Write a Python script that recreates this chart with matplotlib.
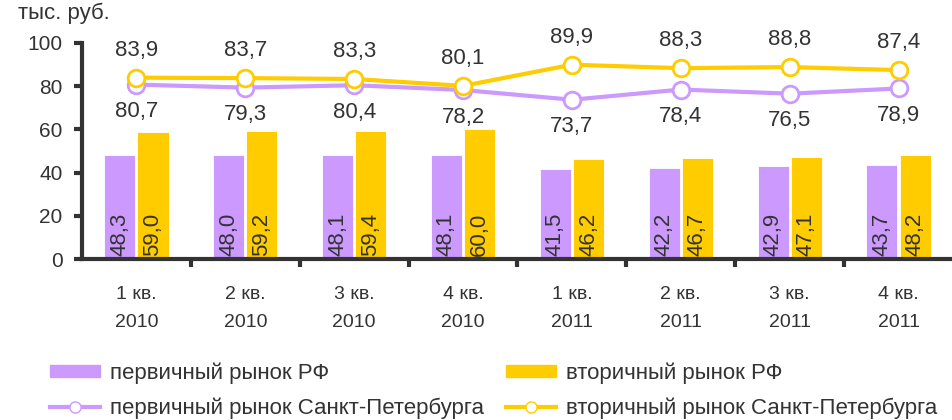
import numpy as np
import matplotlib.pyplot as plt
from matplotlib.lines import Line2D
from matplotlib.patches import Patch

plt.rcParams['font.family'] = ['Liberation Sans', 'DejaVu Sans']

quarters = ['1 кв.\n2010', '2 кв.\n2010', '3 кв.\n2010', '4 кв.\n2010',
            '1 кв.\n2011', '2 кв.\n2011', '3 кв.\n2011', '4 кв.\n2011']
primary_rf = [48.3, 48.0, 48.1, 48.1, 41.5, 42.2, 42.9, 43.7]
secondary_rf = [59.0, 59.2, 59.4, 60.0, 46.2, 46.7, 47.1, 48.2]
primary_spb = [80.7, 79.3, 80.4, 78.2, 73.7, 78.4, 76.5, 78.9]
secondary_spb = [83.9, 83.7, 83.3, 80.1, 89.9, 88.3, 88.8, 87.4]

purple = '#CC99FF'
yellow = '#FFCC00'
dark = '#333333'


def fmt(v):
  return f'{v:.1f}'.replace('.', ',')


fig = plt.figure(figsize=(9.53, 4.2), dpi=100)
ax = fig.add_axes([0.086, 0.383, 0.914, 0.515])

x = np.arange(len(quarters))
w = 0.285
b1 = ax.bar(x - w / 2 - 0.01, primary_rf, w, color=purple, edgecolor='white', linewidth=0.6)
b2 = ax.bar(x + w / 2 + 0.01, secondary_rf, w, color=yellow, edgecolor='white', linewidth=0.6)

for bars, vals in ((b1, primary_rf), (b2, secondary_rf)):
  for r, v in zip(bars, vals):
    ax.text(r.get_x() + r.get_width() / 2, 1.5, fmt(v), rotation=90,
            ha='center', va='bottom', fontsize=16, color=dark)

ax.plot(x, primary_spb, color=purple, lw=3, marker='o', ms=12,
        mfc='white', mec=purple, mew=2, zorder=3)
ax.plot(x, secondary_spb, color=yellow, lw=3, marker='o', ms=12,
        mfc='white', mec=yellow, mew=2, zorder=4)

for xi, v in zip(x, secondary_spb):
  ax.annotate(fmt(v), (xi, v), xytext=(0, 12), textcoords='offset points',
              ha='center', va='bottom', fontsize=16, color=dark)
for xi, v in zip(x, primary_spb):
  ax.annotate(fmt(v), (xi, v), xytext=(0, -12), textcoords='offset points',
              ha='center', va='top', fontsize=16, color=dark)

ax.set_xlim(-0.5, len(quarters) - 0.5)
ax.set_ylim(0, 100)
ax.set_yticks(range(0, 101, 20))
ax.tick_params(axis='y', labelsize=15, colors=dark, width=3, length=6, direction='out', pad=8)
ax.set_xticks(x)
ax.set_xticklabels(quarters, fontsize=14, color=dark, linespacing=1.9)
ax.tick_params(axis='x', length=0, pad=19)
ax.set_xticks(np.arange(0.5, len(quarters) - 0.5), minor=True)
ax.tick_params(axis='x', which='minor', length=6, width=3, color=dark)
for s in ('top', 'right'):
  ax.spines[s].set_visible(False)
for s in ('left', 'bottom'):
  ax.spines[s].set_color(dark)
  ax.spines[s].set_linewidth(3)

fig.text(0.019, 0.969, 'тыс. руб.', fontsize=16, color=dark, ha='left', va='center')

col1 = [
  Patch(color=purple, label='первичный рынок РФ'),
  Line2D([], [], color=purple, lw=3, marker='o', ms=8, mfc='white', mec=purple,
         label='первичный рынок Санкт-Петербурга'),
]
col2 = [
  Patch(color=yellow, label='вторичный рынок РФ'),
  Line2D([], [], color=yellow, lw=3, marker='o', ms=8, mfc='white', mec=yellow,
         label='вторичный рынок Санкт-Петербурга'),
]
for handles, x0 in ((col1, 50), (col2, 506)):
  fig.legend(handles=handles, loc='center left', bbox_to_anchor=(x0 / 953, 1 - 390.5 / 420),
             frameon=False, fontsize=16, handlelength=2.25, handleheight=0.45,
             labelspacing=0.63, handletextpad=0.45, borderpad=0, borderaxespad=0,
             labelcolor=dark)

fig.savefig('out.png', dpi=100)
